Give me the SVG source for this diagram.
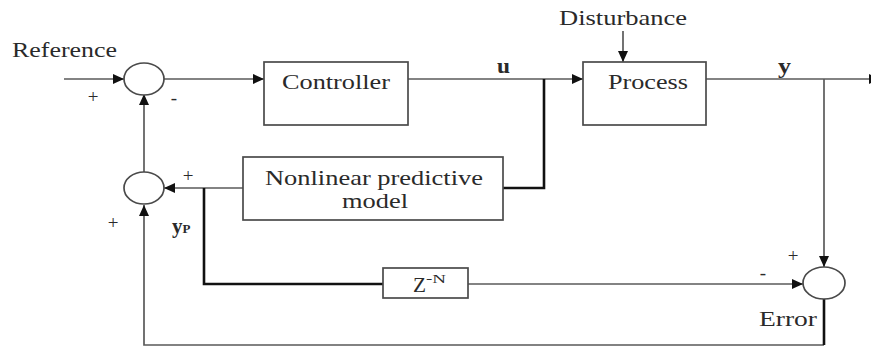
<svg xmlns="http://www.w3.org/2000/svg" width="871" height="346" viewBox="0 0 871 346">
<style>
text{font-family:"Liberation Serif","Times New Roman",serif;fill:#2a2a2a;}
.lbl{font-size:21px;}
.sg{font-size:19px;}
.box{fill:#fff;stroke:#4a4a4a;stroke-width:1.7;}
.sum{fill:#fff;stroke:#4a4a4a;stroke-width:1.7;}
.thin{fill:none;stroke:#5a5a5a;stroke-width:1.7;}
.thick{fill:none;stroke:#111;stroke-width:2.6;}
</style>
<defs>
<marker id="ah" markerUnits="userSpaceOnUse" markerWidth="12" markerHeight="10" refX="11" refY="5" orient="auto">
<path d="M0,0 L11,5 L0,10 Z" fill="#111"/>
</marker>
</defs>
<rect width="871" height="346" fill="#fff"/>
<g id="connectors">
<line class="thin" x1="64" y1="79" x2="124" y2="79" marker-end="url(#ah)"/>
<line class="thin" x1="164" y1="79" x2="264" y2="79" marker-end="url(#ah)"/>
<line class="thin" x1="408" y1="79" x2="583" y2="79" marker-end="url(#ah)"/>
<polyline class="thick" points="544,79 544,188 503,188"/>
<line class="thin" x1="623" y1="31" x2="623" y2="62" marker-end="url(#ah)"/>
<line class="thin" x1="706" y1="79" x2="880" y2="79" marker-end="url(#ah)"/>
<line class="thin" x1="824" y1="79" x2="824" y2="267" marker-end="url(#ah)"/>
<line class="thin" x1="243" y1="188" x2="164" y2="188" marker-end="url(#ah)"/>
<polyline class="thick" points="204,188 204,284 383,284"/>
<line class="thin" x1="468" y1="284" x2="803" y2="284" marker-end="url(#ah)"/>
<polyline class="thin" points="824,345 144,345 144,205" marker-end="url(#ah)"/>
<line class="thick" x1="824" y1="299" x2="824" y2="345"/>
<line class="thin" x1="144" y1="172" x2="144" y2="94" marker-end="url(#ah)"/>
</g>
<g id="sum1"><ellipse class="sum" cx="144" cy="79" rx="20" ry="16"/></g>
<g id="sum2"><ellipse class="sum" cx="144" cy="188" rx="20" ry="16"/></g>
<g id="sum3"><ellipse class="sum" cx="824" cy="283" rx="21" ry="16"/></g>
<g id="controller">
<rect class="box" x="264" y="62" width="144" height="63"/>
<text class="lbl" x="282" y="89" textLength="108" lengthAdjust="spacingAndGlyphs">Controller</text>
</g>
<g id="process">
<rect class="box" x="583" y="62" width="123" height="63"/>
<text class="lbl" x="608" y="89" textLength="80" lengthAdjust="spacingAndGlyphs">Process</text>
</g>
<g id="model">
<rect class="box" x="243" y="157" width="260" height="63"/>
<text class="lbl" x="265" y="185" textLength="218" lengthAdjust="spacingAndGlyphs">Nonlinear predictive</text>
<text class="lbl" x="342" y="208" textLength="66" lengthAdjust="spacingAndGlyphs">model</text>
</g>
<g id="delay">
<rect class="box" x="383" y="268" width="85" height="30"/>
<text class="lbl" x="413" y="292" textLength="13" lengthAdjust="spacingAndGlyphs">Z</text>
<text x="426" y="283" style="font-size:12px" textLength="20" lengthAdjust="spacingAndGlyphs">-N</text>
</g>
<g id="labels">
<text class="lbl" x="12" y="57" textLength="105" lengthAdjust="spacingAndGlyphs">Reference</text>
<text class="lbl" x="559" y="25" textLength="128" lengthAdjust="spacingAndGlyphs">Disturbance</text>
<text class="lbl" x="759" y="326" textLength="58" lengthAdjust="spacingAndGlyphs">Error</text>
<text class="lbl" x="497" y="73" style="font-weight:bold" textLength="13" lengthAdjust="spacingAndGlyphs">u</text>
<text class="lbl" x="778" y="73" style="font-weight:bold" textLength="13" lengthAdjust="spacingAndGlyphs">y</text>
<text class="lbl" x="172" y="233" style="font-weight:bold">y<tspan style="font-size:13px">P</tspan></text>
<text class="sg" x="93" y="103" text-anchor="middle">+</text>
<text class="sg" x="174" y="104" text-anchor="middle">-</text>
<text class="sg" x="188" y="182" text-anchor="middle">+</text>
<text class="sg" x="113" y="229" text-anchor="middle">+</text>
<text class="sg" x="793" y="262" text-anchor="middle">+</text>
<text class="sg" x="763" y="279" text-anchor="middle">-</text>
</g>
</svg>
